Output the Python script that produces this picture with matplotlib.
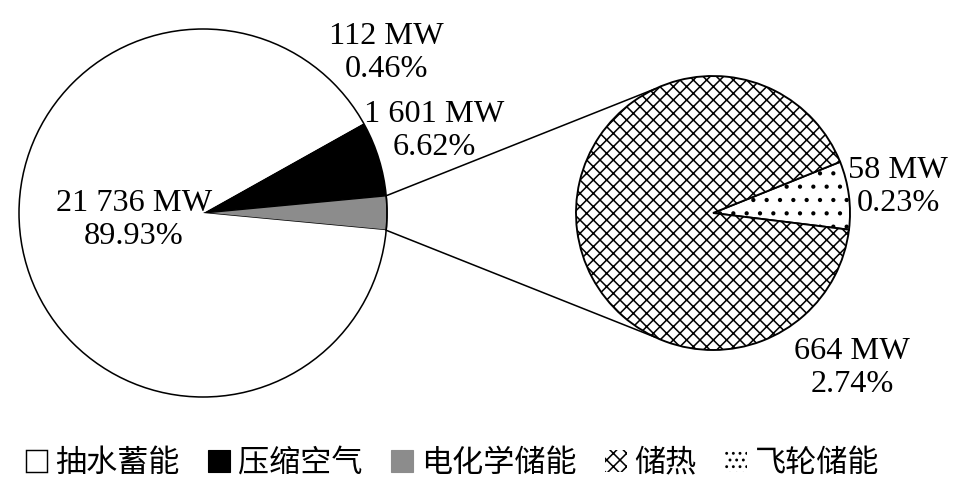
import numpy as np
import matplotlib
matplotlib.use('Agg')
import matplotlib.pyplot as plt
from matplotlib.patches import Patch

# Datos (MW)
labels = ['抽水蓄能', '压缩空气', '电化学储能', '储热', '飞轮储能']
mw = [21736, 112, 1601, 664, 58]
pct_txt = ['89.93%', '0.46%', '6.62%', '2.74%', '0.23%']
mw_txt = ['21 736 MW', '112 MW', '1 601 MW', '664 MW', '58 MW']

plt.rcParams['hatch.linewidth'] = 1.4
DPI = 80
fig = plt.figure(figsize=(971 / DPI, 485 / DPI), dpi=DPI)
ax = fig.add_axes([0, 0, 1, 1])

c1, r1 = (203, 272), 184   # pie principal
c2, r2 = (713, 272), 137   # pie secundario

# pie principal: [otros, electroquímico, aire comprimido, bombeo]
otros = mw[3] + mw[4]
main_vals = [otros, mw[2], mw[1], mw[0]]
total = sum(main_vals)
a0 = -otros / total * 360 / 2
w1, _ = ax.pie(main_vals, startangle=a0, counterclock=True, center=c1, radius=r1,
               colors=['#8c8c8c', 'black', 'white', 'white'],
               wedgeprops=dict(linewidth=0), frame=True)
w1[0].set_edgecolor('black'); w1[0].set_linewidth(1.3)
ax.add_patch(plt.Circle(c1, r1, fill=False, ec='black', lw=1.4))

# pie secundario: [volante, térmico]
sec_vals = [mw[4], mw[3]]
w2, _ = ax.pie(sec_vals, startangle=-7, counterclock=True, center=c2, radius=r2,
               colors=['white', 'white'],
               wedgeprops=dict(linewidth=1.7, edgecolor='black'), frame=True)
w2[0].set_hatch('.')
w2[1].set_hatch('xx')
ax.set_xlim(0, 971)
ax.set_ylim(0, 485)
ax.set_aspect('equal')
ax.axis('off')

# líneas de conexión
for s in (1, -1):
    t1 = np.deg2rad(-s * a0)
    t2 = np.deg2rad(s * 115)
    ax.plot([c1[0] + r1 * np.cos(t1), c2[0] + r2 * np.cos(t2)],
            [c1[1] + r1 * np.sin(t1), c2[1] + r2 * np.sin(t2)], color='black', lw=1.4)

# etiquetas
fs = 29
pos = [(134, 265), (386, 432), (434, 354), (852, 117), (898, 298)]
for i, (x, y) in enumerate(pos):
    ax.text(x, y, mw_txt[i] + '\n' + pct_txt[i], ha='center', va='center',
            fontsize=fs, family=['Liberation Serif'], linespacing=1.15)

handles = [Patch(facecolor='white', edgecolor='black', lw=1.3),
           Patch(facecolor='black', edgecolor='black'),
           Patch(facecolor='#8c8c8c', edgecolor='#8c8c8c'),
           Patch(facecolor='white', edgecolor='black', lw=0, hatch='xx'),
           Patch(facecolor='white', edgecolor='black', lw=0, hatch='..')]
fig.legend(handles, labels, loc='center', bbox_to_anchor=(0.466, 0.045), ncol=5,
           frameon=False, handlelength=0.7, handleheight=0.7, handletextpad=0.25,
           columnspacing=0.92, prop={'family': ['Noto Sans CJK SC', 'DejaVu Sans'], 'size': 28})

fig.savefig('out.png', dpi=DPI)
